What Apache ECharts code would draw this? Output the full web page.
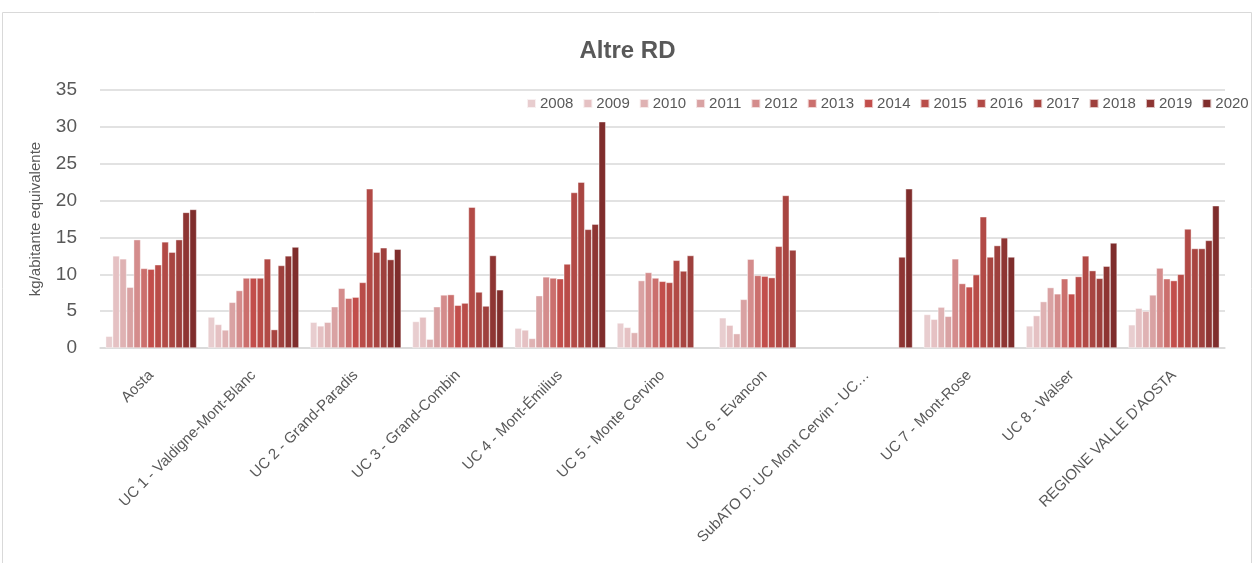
<!DOCTYPE html>
<html>
<head>
<meta charset="utf-8">
<script src="https://cdn.jsdelivr.net/npm/echarts@6/dist/echarts.min.js"></script>
<style>
  html, body { margin: 0; padding: 0; background: #fff; }
  #chart { width: 1255px; height: 563px; }
</style>
</head>
<body>
<div id="chart"></div>
<script>
const categories = [
    'Aosta',
    'UC 1 - Valdigne-Mont-Blanc',
    'UC 2 - Grand-Paradis',
    'UC 3 - Grand-Combin',
    'UC 4 - Mont-Émilius',
    'UC 5 - Monte Cervino',
    'UC 6 - Evancon',
    'SubATO D: UC Mont Cervin - UC…',
    'UC 7 - Mont-Rose',
    'UC 8 - Walser',
    "REGIONE VALLE D'AOSTA"
]

const years = ['2008', '2009', '2010', '2011', '2012', '2013', '2014', '2015', '2016', '2017', '2018', '2019', '2020']

// one array per year, values in category order (null = no data)
const v2008 = [1.6, 4.2, 3.5, 3.6, 2.7, 3.4, 4.1, null, 4.55, 3.0, 3.15]
const v2009 = [12.5, 3.2, 3.0, 4.2, 2.45, 2.8, 3.1, null, 3.9, 4.4, 5.4]
const v2010 = [12.1, 2.45, 3.5, 1.2, 1.3, 2.1, 1.95, null, 5.55, 6.3, 5.0]
const v2011 = [8.25, 6.2, 5.6, 5.6, 7.1, 9.15, 6.6, null, 4.3, 8.2, 7.2]
const v2012 = [14.7, 7.8, 8.1, 7.2, 9.65, 10.25, 12.05, null, 12.1, 7.35, 10.85]
const v2013 = [10.8, 9.5, 6.75, 7.25, 9.5, 9.5, 9.85, null, 8.75, 9.4, 9.4]
const v2014 = [10.7, 9.5, 6.9, 5.8, 9.4, 9.05, 9.75, null, 8.3, 7.35, 9.15]
const v2015 = [11.3, 9.5, 8.9, 6.1, 11.4, 8.9, 9.55, null, 9.95, 9.7, 10.0]
const v2016 = [14.4, 12.1, 21.6, 19.1, 21.1, 11.9, 13.8, null, 17.8, 12.5, 16.15]
const v2017 = [13.0, 2.5, 13.0, 7.6, 22.5, 10.45, 20.7, null, 12.35, 10.5, 13.5]
const v2018 = [14.7, 11.2, 13.6, 5.7, 16.1, 12.55, 13.3, null, 13.9, 9.45, 13.5]
const v2019 = [18.4, 12.5, 12.0, 12.55, 16.8, null, null, 12.35, 14.95, 11.1, 14.6]
const v2020 = [18.8, 13.7, 13.4, 7.9, 30.7, null, null, 21.6, 12.35, 14.25, 19.3]

const values = [v2008, v2009, v2010, v2011, v2012, v2013, v2014, v2015, v2016, v2017, v2018, v2019, v2020]

const colors = ['#e8cdcf', '#e5c1c3', '#dfb2b3', '#d9a2a3', '#d48c8c', '#cb6f6d', '#c24e4b',
    '#b94c48', '#b24a46', '#a84541', '#9e403d', '#8e3533', '#7f2d2c']

const textColor = '#595959'
const font = "'Liberation Sans', Arial, sans-serif"

const chart = echarts.init(document.getElementById('chart'))

chart.setOption({
    animation: false,
    color: colors,
    title: {
        text: 'Altre RD',
        left: 'center',
        top: 34,
        textStyle: { fontFamily: font, fontSize: 24, fontWeight: 'bold', color: textColor }
    },
    legend: {
        left: 521,
        top: 91,
        itemWidth: 9,
        itemHeight: 9,
        itemGap: 9,
        icon: 'rect',
        textStyle: { fontFamily: font, fontSize: 15, color: textColor, padding: [0, 0, 0, -1] },
        data: years
    },
    grid: { left: 100, right: 30, top: 90, bottom: 215 },
    xAxis: {
        type: 'category',
        data: categories,
        axisLine: { lineStyle: { color: '#d9d9d9', width: 1.5 } },
        axisTick: { show: false },
        axisLabel: {
            interval: 0,
            rotate: 45,
            margin: 25,
            fontFamily: font,
            fontSize: 15,
            color: textColor
        }
    },
    yAxis: {
        type: 'value',
        min: 0,
        max: 35,
        interval: 5,
        name: 'kg/abitante equivalente',
        nameLocation: 'middle',
        nameGap: 57,
        nameTextStyle: { fontFamily: font, fontSize: 15, color: textColor },
        axisLine: { show: false },
        axisTick: { show: false },
        axisLabel: { fontFamily: font, fontSize: 19, color: textColor, margin: 23 },
        splitLine: { lineStyle: { color: '#d9d9d9', width: 1.5 } }
    },
    series: years.map((y, i) => ({
        name: y,
        type: 'bar',
        barGap: '0%',
        barCategoryGap: '11%',
        data: values[i],
        itemStyle: { color: colors[i], borderColor: 'rgba(255,255,255,0.7)', borderWidth: 0.6 }
    })),
    graphic: [{
        type: 'rect',
        shape: { x: 2.5, y: 12.5, width: 1249, height: 600 },
        style: { fill: 'none', stroke: '#d9d9d9', lineWidth: 1 },
        silent: true
    }]
})
</script>
</body>
</html>
